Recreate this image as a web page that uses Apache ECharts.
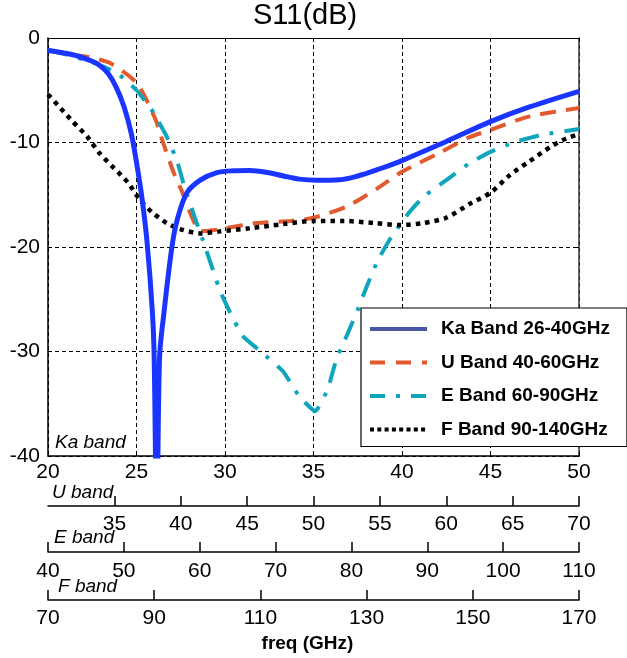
<!DOCTYPE html>
<html>
<head>
<meta charset="utf-8">
<script src="https://cdn.jsdelivr.net/npm/echarts@6/dist/echarts.min.js"></script>
<style>
html,body{margin:0;padding:0;background:#fff;}
#chart{width:627px;height:658px;}
</style>
</head>
<body>
<div id="chart"></div>
<script>
// Ka band (26-40 GHz) S11, frequency in GHz on the Ka axis
const kaFreq = [20, 21.4, 22.3, 22.9, 23.4, 23.85, 24.3, 24.7, 25.0, 25.3, 25.6, 25.9, 26.0, 26.15, 26.3, 26.55, 27.0, 27.3, 27.85, 28.6, 29.5, 30.5, 31.4, 32.4, 33.3, 34.2, 35.2, 36.5, 37.5, 38.6, 39.9, 42.5, 45, 47.2, 50];
const kaS11 = [-1.2, -1.6, -2.1, -2.6, -3.4, -4.7, -6.6, -9.1, -11.9, -15.2, -19.6, -26.3, -30.7, -48, -30.7, -26.3, -20, -17.4, -14.8, -13.6, -12.9, -12.7, -12.67, -12.86, -13.2, -13.5, -13.6, -13.55, -13.2, -12.6, -11.8, -9.9, -8.0, -6.6, -5.1];

// U band (40-60 GHz) S11, frequency in GHz on the U axis
const uFreq = [30, 31.87, 32.93, 34.67, 36.67, 38.07, 38.67, 39.47, 40.13, 40.93, 41.47, 42.4, 43.33, 45.73, 48.27, 50, 52.53, 54.8, 56.67, 59.47, 61.73, 63.33, 66.27, 70];
const uS11 = [-1.15, -1.6, -1.8, -2.4, -4.3, -7.7, -10.0, -12.9, -14.8, -17.4, -18.5, -18.4, -18.2, -17.7, -17.5, -17.2, -16.1, -14.4, -12.8, -11.0, -9.5, -8.8, -7.5, -6.7];

// E band (60-90 GHz) S11, frequency in GHz on the E axis
const eFreq = [40, 41.98, 45.83, 49.1, 51.67, 53.77, 55.63, 57.03, 57.97, 59.6, 60.3, 61.7, 62.63, 64.03, 65.67, 68.23, 71.0, 73.13, 75.23, 76.87, 78.03, 79.43, 80.83, 82.0, 83.4, 85.03, 87.37, 89.47, 92.5, 95.53, 98.33, 101.37, 104.87, 110];
const eS11 = [-1.15, -1.5, -2.3, -3.35, -5.0, -7.0, -9.4, -11.8, -14.2, -17.7, -19.1, -22.1, -24.1, -26.3, -28.5, -30.1, -31.9, -34.3, -35.7, -33.6, -30.7, -28.4, -26.0, -23.8, -21.4, -19.3, -16.9, -15.2, -13.6, -12.0, -10.9, -10.0, -9.3, -8.7];

// F band (90-140 GHz) S11, frequency in GHz on the F axis
const fFreq = [70, 72.33, 74.67, 77.33, 79.67, 82.33, 85, 87.33, 89.67, 92.33, 95, 98.67, 102.33, 108, 114.33, 120, 125.67, 131.33, 136.33, 140.67, 145, 149.33, 153.33, 157, 160.67, 164.67, 167.67, 170];
const fS11 = [-5.4, -6.7, -8.0, -9.4, -11.0, -12.4, -13.8, -15.5, -16.7, -17.7, -18.3, -18.7, -18.5, -18.2, -17.8, -17.5, -17.5, -17.7, -17.9, -17.7, -17.2, -15.9, -14.8, -13.1, -11.8, -10.4, -9.6, -9.2];

const seriesNames = ['Ka Band 26-40GHz', 'U Band 40-60GHz', 'E Band 60-90GHz', 'F Band 90-140GHz'];
const bandLabels = ['Ka band', 'U band', 'E band', 'F band'];

const FONT = '"Liberation Sans", Arial, Helvetica, sans-serif';
const pairs = (xs, ys) => xs.map((x, i) => [x, ys[i]]);

const chart = echarts.init(document.getElementById('chart'), null, {renderer: 'canvas'});

const subAxis = (min, max, interval, offset, margin, showMin) => ({
  type: 'value', gridIndex: 0, position: 'bottom', offset: offset,
  min: min, max: max, interval: interval,
  axisLine: {show: true, onZero: false, lineStyle: {color: '#000', width: 1.5}},
  axisTick: {show: true, inside: true, length: 10, lineStyle: {color: '#000', width: 1.5}},
  axisLabel: {show: true, color: '#000', fontSize: 21, fontFamily: FONT, margin: margin, showMinLabel: showMin, showMaxLabel: true},
  splitLine: {show: false}
});

const hiddenSymbol = {opacity: 0};

const option = {
  backgroundColor: '#fff',
  animation: false,
  title: {
    text: 'S11(dB)', left: 253, top: 1, padding: 0,
    textStyle: {fontSize: 29, fontWeight: 'normal', color: '#000', fontFamily: FONT}
  },
  grid: {left: 48, top: 38, width: 531, height: 419, containLabel: false},
  legend: {
    orient: 'vertical', left: 361, top: 308,
    padding: [11, 17, 7, 7],
    itemWidth: 57, itemHeight: 20, itemGap: 13.5,
    backgroundColor: '#fff', borderColor: '#000', borderWidth: 1.2,
    itemStyle: hiddenSymbol,
    textStyle: {fontSize: 19, fontWeight: 'bold', color: '#000', fontFamily: FONT, lineHeight: 20, padding: [0, 0, 0, 9]},
    data: [
      {name: seriesNames[0], itemStyle: hiddenSymbol, lineStyle: {color: '#4a55a5', width: 4}},
      {name: seriesNames[1], itemStyle: hiddenSymbol, lineStyle: {color: '#e25a2e', width: 4, type: [15, 11]}},
      {name: seriesNames[2], itemStyle: hiddenSymbol, lineStyle: {color: '#0fa5bd', width: 4, type: [15, 11, 4, 11]}},
      {name: seriesNames[3], itemStyle: hiddenSymbol, lineStyle: {color: '#000', width: 4, type: [4, 3.3]}}
    ]
  },
  xAxis: [
    {
      type: 'value', min: 20, max: 50, interval: 5, position: 'bottom',
      axisLine: {show: true, onZero: false, lineStyle: {color: '#000', width: 1.5}},
      axisTick: {show: true, inside: true, length: 4, lineStyle: {color: '#000'}},
      axisLabel: {color: '#000', fontSize: 21, fontFamily: FONT, margin: 6},
      splitLine: {show: true, lineStyle: {color: '#000', width: 1, type: [4, 3]}}
    },
    {
      type: 'value', min: 20, max: 50, interval: 5, position: 'top',
      axisLine: {show: true, onZero: false, lineStyle: {color: '#000', width: 1.2}},
      axisTick: {show: true, inside: true, length: 4, lineStyle: {color: '#000'}},
      axisLabel: {show: false}, splitLine: {show: false}
    },
    subAxis(30, 70, 5, 50, 8, false),
    subAxis(40, 110, 10, 96, 9, true),
    Object.assign(subAxis(70, 170, 20, 144, 8, true), {
      name: 'freq (GHz)', nameLocation: 'middle', nameGap: 29,
      nameTextStyle: {fontSize: 19, fontWeight: 'bold', color: '#000', fontFamily: FONT, padding: [0, 12, 0, 0]}
    })
  ],
  yAxis: [
    {
      type: 'value', min: -40, max: 0, interval: 10, position: 'left',
      axisLine: {show: true, onZero: false, lineStyle: {color: '#000', width: 1.5}},
      axisTick: {show: true, inside: true, length: 4, lineStyle: {color: '#000'}},
      axisLabel: {color: '#000', fontSize: 21, fontFamily: FONT, margin: 8},
      splitLine: {show: true, lineStyle: {color: '#000', width: 1, type: [4, 3]}}
    },
    {
      type: 'value', min: -40, max: 0, interval: 10, position: 'right',
      axisLine: {show: true, onZero: false, lineStyle: {color: '#333', width: 1.5}},
      axisTick: {show: true, inside: true, length: 5, lineStyle: {color: '#000'}},
      axisLabel: {show: false}, splitLine: {show: false}
    }
  ],
  graphic: [
    {type: 'text', x: 55, y: 443, silent: true, style: {text: bandLabels[0], font: 'italic 19px ' + FONT, fill: '#000', align: 'left', verticalAlign: 'middle'}},
    {type: 'text', x: 52, y: 493, silent: true, style: {text: bandLabels[1], font: 'italic 19px ' + FONT, fill: '#000', align: 'left', verticalAlign: 'middle'}},
    {type: 'text', x: 54, y: 538, silent: true, style: {text: bandLabels[2], font: 'italic 19px ' + FONT, fill: '#000', align: 'left', verticalAlign: 'middle'}},
    {type: 'text', x: 58, y: 587, silent: true, style: {text: bandLabels[3], font: 'italic 19px ' + FONT, fill: '#000', align: 'left', verticalAlign: 'middle'}}
  ],
  series: [
    {
      name: seriesNames[0], type: 'line', xAxisIndex: 0, yAxisIndex: 0,
      data: pairs(kaFreq, kaS11), symbol: 'none', smooth: 0.35, clip: true, z: 4,
      lineStyle: {color: '#1a35ff', width: 5},
      itemStyle: {color: '#1a35ff'}
    },
    {
      name: seriesNames[1], type: 'line', xAxisIndex: 2, yAxisIndex: 0,
      data: pairs(uFreq, uS11), symbol: 'none', smooth: 0.25, clip: true, z: 3,
      lineStyle: {color: '#e25a2e', width: 4, type: [16, 10]},
      itemStyle: {color: '#e25a2e'}
    },
    {
      name: seriesNames[2], type: 'line', xAxisIndex: 3, yAxisIndex: 0,
      data: pairs(eFreq, eS11), symbol: 'none', smooth: 0.15, clip: true, z: 3,
      lineStyle: {color: '#0fa5bd', width: 4, type: [20, 11, 4, 11]},
      itemStyle: {color: '#0fa5bd'}
    },
    {
      name: seriesNames[3], type: 'line', xAxisIndex: 4, yAxisIndex: 0,
      data: pairs(fFreq, fS11), symbol: 'none', smooth: 0.25, clip: true, z: 3,
      lineStyle: {color: '#000', width: 4.5, type: [4.5, 5]},
      itemStyle: {color: '#000'}
    }
  ]
};
chart.setOption(option);
</script>
</body>
</html>
